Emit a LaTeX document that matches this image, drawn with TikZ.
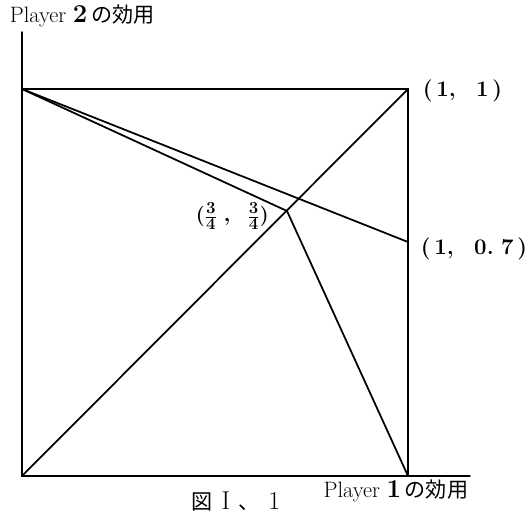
\documentclass[tikz,border=0pt]{standalone}
\usepackage{fontspec}
\newfontfamily\cjk{Noto Sans CJK JP}
\usetikzlibrary{positioning}

\begin{document}
\begin{tikzpicture}[x=0.03cm, y=-0.03cm,
		line width=1.5pt, line cap=round,
		lbl/.style={inner sep=0pt, font=\fontsize{19}{21}\selectfont},
		pkt/.style={inner sep=0pt, font=\fontsize{19}{22}\selectfont\bfseries}]
		\useasboundingbox (0,0) rectangle (531,513);
		% Eckpunkte
		\coordinate (O) at (22,476);
		\coordinate (A) at (22,89);
		\coordinate (B) at (408,89);
		\coordinate (C) at (408,242);
		\coordinate (D) at (408,476);
		\coordinate (E) at (287,211);
		\coordinate (ye) at (22,32);
		\coordinate (xe) at (470,476);
		% Achsen zeichnen
		\draw[line width=1.2pt] (O) -- (ye);
		\draw[line width=1.2pt] (O) -- (xe);
		% Quadrat
		\draw (A) -- (B) -- (D);
		% Linien
		\draw (O) -- (B);
		\draw (A) -- (C);
		\draw (A) -- (E) -- (D);
		% Beschriftung
		\node[lbl, anchor=base west] (u2) at (9,23) {Player {\fontsize{22}{22}\selectfont\bfseries 2}\,{\cjk\fontsize{18}{20}\selectfont の効用}};
		\node[lbl, anchor=base east] (u1) at (469,497) {Player {\fontsize{22}{22}\selectfont\bfseries 1}\,{\cjk\fontsize{18}{20}\selectfont の効用}};
		\node[lbl, anchor=base west, font=\fontsize{22}{24}\selectfont] (fig) at (191,509) {{\cjk\fontsize{18}{20}\selectfont 図}\,\,I\,\,{\cjk\fontsize{18}{20}\selectfont 、}\,\,1};
		\node[pkt, anchor=base west] (p11) at (422,97) {(\,1,\ \ \,1\,)};
		\node[pkt, anchor=base west] (p107) at (420,255) {(\,1,\ \ \,0.\,\,7\,)};
		\node[pkt, anchor=west, font=\fontsize{19}{21}\selectfont\boldmath] (p34) at (195,216) {$(\frac{3}{4}\ ,\ \ \frac{3}{4})$};
	\end{tikzpicture}
\end{document}
